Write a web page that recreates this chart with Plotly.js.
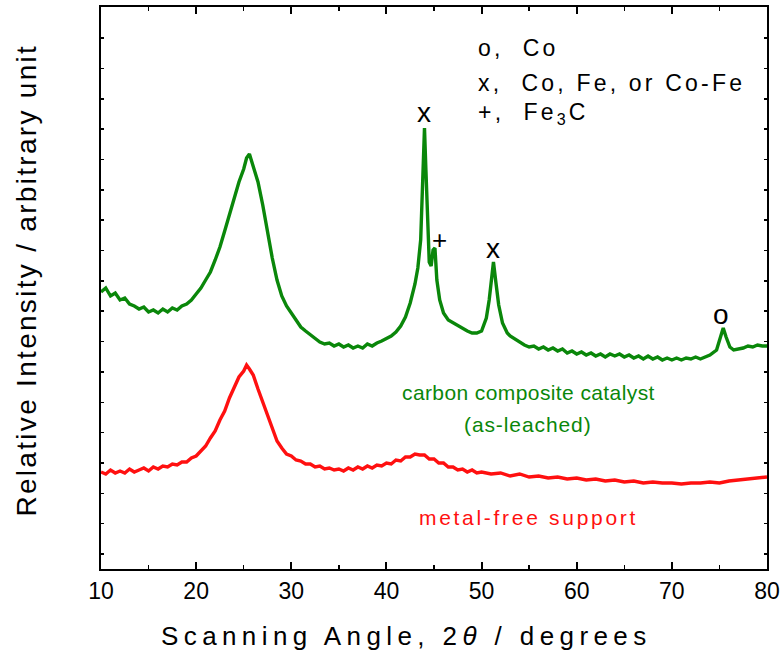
<!DOCTYPE html>
<html>
<head>
<meta charset="utf-8">
<script src="https://cdn.plot.ly/plotly-3.0.1.min.js"></script>
<style>
body { margin: 0; background: #fff; }
#chart { width: 784px; height: 660px; }
</style>
</head>
<body>
<div id="chart"></div>
<script>
// Scanning angle (2θ, degrees) and relative intensity (arbitrary units)
const catalystAngle = [10,10.5,11,11.5,12,12.5,13,13.5,14,14.5,15,15.5,16,16.5,17,17.5,18,18.5,19,19.5,20,20.5,21,21.5,22,22.5,23,23.5,24,24.5,25,25.3,25.6,26,26.5,27,27.5,28,28.5,29,29.5,30,30.5,31,31.5,32,32.5,33,33.5,34,34.5,35,35.5,36,36.5,37,37.5,38,38.5,39,39.5,40,40.5,41,41.5,42,42.5,43,43.3,43.6,43.8,44.0,44.15,44.3,44.5,44.7,44.9,45.1,45.3,45.6,46,46.5,47,47.5,48,48.5,49,49.5,50,50.5,50.8,51.1,51.25,51.5,51.8,52.2,52.7,53,53.5,54,54.5,55,55.5,56,56.5,57,57.5,58,58.5,59,59.5,60,60.5,61,61.5,62,62.5,63,63.5,64,64.5,65,65.5,66,66.5,67,67.5,68,68.5,69,69.5,70,70.5,71,71.5,72,72.5,73,73.5,74,74.7,75.1,75.4,75.7,76.1,76.5,77,77.5,78,78.5,79,79.5,80];
const catalystIntensity = [277,281,273,276,269,271,265,263,260,262,257,259,256,260,257,261,259,263,265,269,275,281,289,297,309,322,338,355,371,387,400,411,415,403,387,364,337,311,289,273,263,256,249,242,238,234,230,227,225,226,223,225,222,224,221,223,221,225,223,226,228,231,233,237,243,252,266,285,301,329,379,441,399,349,307,303,319,321,289,269,256,249,246,243,241,238,236,236,238,251,269,299,307,287,264,246,236,233,230,226,224,
  222,223,220,222,219,221,218,220,216,218,
  215,217,214,216,213,215,212,215,213,215,
  212,214,211,213,210,213,210,212,209,211,
  209,211,209,211,210,212,210,212,214,
  219,231,241,232,222,219,220,221,223,222,224,223,223];

const supportAngle = [10,10.5,11,11.5,12,12.5,13,13.5,14,14.5,15,15.5,16,16.5,17,17.5,18,18.5,19,19.5,20,20.5,21,21.5,22,22.5,23,23.5,24,24.5,25,25.3,25.6,26,26.5,27,27.5,28,28.5,29,29.5,30,30.5,31,31.5,32,32.5,33,33.5,34,34.5,35,35.5,36,36.5,37,37.5,38,38.5,39,39.5,40,40.5,41,41.5,42,42.5,43,43.5,44,44.5,45,45.5,46,46.5,47,47.5,48,48.5,49,49.5,50,51,52,53,54,55,56,57,58,59,60,61,62,63,64,65,66,67,68,69,70,71,72,73,74,75,76,77,78,79,80];
const supportIntensity = [97,95,99,96,98,96,100,97,99,101,98,102,100,103,102,105,104,107,107,111,113,118,123,131,138,149,158,171,181,192,198,204,200,194,180,167,152,140,128,121,115,113,109,108,105,105,102,103,100,101,99,100,98,101,99,102,100,103,101,104,103,106,105,109,108,112,112,115,114,114,110,110,106,106,102,102,99,100,97,99,96,97,95,96,93,95,92,93,91,92,90,91,89,90,88,89,87,88,86,87,86,86,85,86,86,87,86,88,89,90,91,92];

const xTickVals = [10,20,30,40,50,60,70,80];
const xTickText = ["10","20","30","40","50","60","70","80"];

const green = "#0a870a";
const red = "#ff1010";

const traces = [
  {x: catalystAngle, y: catalystIntensity, mode: "lines", line: {color: green, width: 3.4}, hoverinfo: "skip"},
  {x: supportAngle, y: supportIntensity, mode: "lines", line: {color: red, width: 3.4}, hoverinfo: "skip"}
];

const fam = "Liberation Sans, Arial, sans-serif";
const sp = (t, s) => '<span style="letter-spacing:' + s + 'px">' + t + '</span>';
const key = {family: fam, size: 23, color: "#000"};
const annotations = [
  {x: 0.563, y: 0.927, xref: "paper", yref: "paper", text: sp("o,  Co", 3.2), showarrow: false, xanchor: "left", yanchor: "middle", font: key},
  {x: 0.563, y: 0.865, xref: "paper", yref: "paper", text: sp("x,  Co, Fe, or Co-Fe", 3.2), showarrow: false, xanchor: "left", yanchor: "middle", font: key},
  {x: 0.563, y: 0.811, xref: "paper", yref: "paper", text: sp("+,  Fe<sub>3</sub>C", 3.2), showarrow: false, xanchor: "left", yanchor: "middle", font: key},
  {x: 44.0, y: 457, text: "x", showarrow: false, yanchor: "middle", font: {family: fam, size: 28, color: "#000"}},
  {x: 45.6, y: 329, text: "+", showarrow: false, yanchor: "middle", font: {family: fam, size: 26, color: "#000"}},
  {x: 51.2, y: 321, text: "x", showarrow: false, yanchor: "middle", font: {family: fam, size: 28, color: "#000"}},
  {x: 75.2, y: 255, text: "o", showarrow: false, yanchor: "middle", font: {family: fam, size: 28, color: "#000"}},
  {x: 54.9, y: 177, text: sp("carbon composite catalyst", 0.4), showarrow: false, yanchor: "middle", font: {family: fam, size: 21, color: green}},
  {x: 54.9, y: 145, text: sp("(as-leached)", 0.9), showarrow: false, yanchor: "middle", font: {family: fam, size: 21, color: green}},
  {x: 54.9, y: 52, text: sp("metal-free support", 2.7), showarrow: false, yanchor: "middle", font: {family: fam, size: 21, color: red}},
  {x: 0.458, y: -0.119, xref: "paper", yref: "paper", text: sp("Scanning Angle, 2<i>θ</i> / degrees", 5.4), showarrow: false, xanchor: "center", yanchor: "middle", font: {family: fam, size: 26, color: "#000"}},
  {x: -0.112, y: 0.514, xref: "paper", yref: "paper", text: sp("Relative Intensity / arbitrary unit", 2.3), textangle: -90, showarrow: false, xanchor: "center", yanchor: "middle", font: {family: fam, size: 28, color: "#000"}}
];

const layout = {
  width: 784, height: 660,
  margin: {l: 101, r: 17, t: 7, b: 91},
  paper_bgcolor: "#fff", plot_bgcolor: "#fff",
  showlegend: false,
  xaxis: {
    range: [10, 80], tickvals: xTickVals, ticktext: xTickText,
    ticks: "inside", ticklen: 7, tickwidth: 2, tickcolor: "#000",
    minor: {dtick: 5, ticks: "inside", ticklen: 4, tickwidth: 1.5, tickcolor: "#000"},
    showline: true, linecolor: "#000", linewidth: 2, mirror: "ticks",
    showgrid: false, zeroline: false,
    tickfont: {family: "Liberation Sans Narrow, Liberation Sans, Arial, sans-serif", size: 23, color: "#000"}
  },
  yaxis: {
    range: [0, 562], tick0: 15, dtick: 30.35,
    ticks: "inside", ticklen: 3, tickwidth: 1.5, tickcolor: "#000",
    showticklabels: false,
    showline: true, linecolor: "#000", linewidth: 2, mirror: "ticks",
    showgrid: false, zeroline: false
  },
  annotations: annotations
};

Plotly.newPlot("chart", traces, layout, {staticPlot: true, displayModeBar: false});
</script>
</body>
</html>
